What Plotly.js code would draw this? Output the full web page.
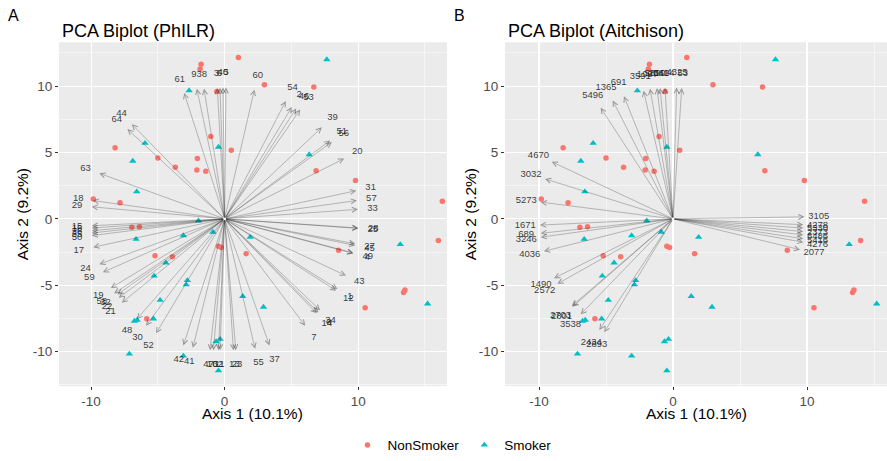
<!DOCTYPE html>
<html>
<head>
<meta charset="utf-8">
<script src="https://cdn.plot.ly/plotly-3.0.1.min.js"></script>
<style>html,body{margin:0;padding:0;background:#fff;}#chart{width:887px;height:461px;}</style>
</head>
<body>
<div id="chart"></div>
<script>
// ---- sample scores shared by both panels ----
const nonSmokerX = [-1.76,-1.84,-0.59,-1.04,0.5,-8.2,-5.0,-3.69,-2.04,-2.08,-1.41,-9.83,-7.83,-6.95,-6.38,-0.46,-0.26,-5.21,-3.91,-5.83,1.03,2.98,6.68,6.85,9.8,1.61,8.53,13.5,13.4,10.52];
const nonSmokerY = [11.65,11.28,9.6,6.2,5.17,5.36,4.59,3.88,4.54,3.68,3.58,1.5,1.21,-0.64,-0.59,-2.07,-2.15,-2.77,-2.86,-7.53,12.15,10.1,9.93,3.63,2.89,-2.62,-2.37,-5.35,-5.55,-6.69];
const smokerX = [-2.66,-0.46,-5.96,-6.88,-6.58,-1.96,-6.63,-3.09,-0.88,-4.4,-5.28,-2.79,-2.88,-4.83,-6.75,-6.55,-5.33,-7.13,-3.09,-0.64,-0.34,-0.46,7.65,6.33,1.91,13.15,1.36,2.91,15.2];
const smokerY = [9.65,5.41,5.7,4.35,2.05,-0.15,-1.53,-1.26,-0.99,-3.31,-4.3,-4.64,-4.96,-6.12,-7.7,-7.62,-7.53,-10.17,-10.32,-9.24,-9.06,-11.43,12.0,4.84,-1.38,-1.93,-5.83,-6.64,-6.4];
// far-right NonSmoker samples that sit differently in the two panels
const nonSmokerFarX_A = [16.3, 16.0];
const nonSmokerFarX_B = [14.3, 14.0];
const nonSmokerFarY = [1.33, -1.63];

// ---- PhILR loadings (arrow tips) ----
const philrLabels = ["61","9","38","3","6","40","5","60","54","2","46","53","39","51","56","20","31","57","33","28","25","27","45","49","4","43","1","12","34","8","14","7","37","55","23","13","11","62","10","47","41","42","52","30","48","21","22","32","58","19","59","24","17","50","35","26","16","15","29","18","63","64","44"];
const philrX = [-3.03,-2.08,-1.54,-0.55,-0.35,-0.12,0.1,2.23,4.58,5.03,5.36,5.66,7.28,7.9,8.03,8.95,9.85,9.9,9.98,10.02,10.0,9.78,9.78,9.65,9.62,9.08,8.45,8.35,7.15,7.03,6.9,6.03,3.36,2.28,0.84,0.66,-0.34,-0.46,-0.84,-1.09,-2.38,-3.09,-5.13,-5.88,-6.58,-7.7,-7.93,-8.03,-8.28,-8.52,-9.12,-9.38,-9.83,-9.95,-9.95,-9.95,-9.95,-9.95,-9.95,-9.87,-9.38,-7.28,-6.95];
const philrY = [9.48,9.8,9.8,9.85,9.87,9.9,9.9,9.73,8.87,8.42,8.32,8.24,6.89,5.9,5.78,4.54,2.12,1.38,0.72,-0.69,-0.72,-1.88,-2.0,-2.57,-2.6,-4.27,-5.28,-5.41,-6.89,-7.06,-7.11,-8.05,-9.53,-9.78,-9.9,-9.9,-9.9,-9.9,-9.9,-9.9,-9.7,-9.53,-8.62,-8.05,-7.56,-6.32,-5.95,-5.7,-5.63,-5.21,-4.02,-3.41,-2.13,-1.26,-1.06,-0.89,-0.69,-0.52,0.91,1.38,3.43,6.76,7.13];

// ---- Aitchison loadings (arrow tips) ----
const aitchLabels = ["5496","1365","691","3591","1097","5620","2041","5604","4325","53","4670","3032","5273","1671","689","3246","4036","1490","2572","2703","2801","3538","2434","2893","3105","4278","5330","2373","6486","5416","4276","2077"];
const aitchX = [-5.4,-4.5,-3.66,-2.2,-1.72,-1.2,-0.97,-0.6,0.27,0.65,-9.05,-9.55,-9.87,-9.93,-9.87,-9.87,-9.63,-8.88,-8.63,-7.56,-7.5,-6.89,-5.5,-5.13,9.8,9.72,9.72,9.72,9.72,9.72,9.72,9.48];
const aitchY = [8.37,8.91,9.23,9.65,9.8,9.85,9.85,9.87,9.9,9.85,4.3,3.01,1.26,-0.47,-1.09,-1.38,-2.44,-4.47,-4.89,-6.57,-6.62,-7.19,-8.37,-8.54,0.15,-0.44,-0.69,-0.96,-1.21,-1.5,-1.76,-2.32];

const labelScale = 1.11;
const titles = ["PCA Biplot (PhILR)", "PCA Biplot (Aitchison)"];
const panelTags = ["A", "B"];
const xTitle = "Axis 1 (10.1%)";
const yTitle = "Axis 2 (9.2%)";

const RED = "#F8766D", TEAL = "#00BFC4";
const FONT = "Liberation Sans, Arial, Helvetica, sans-serif";
const W = 887, H = 461;
const px = v => v / W, py = v => 1 - v / H;

const traces = [];
function addPoints(xa, ya, show, farX) {
  traces.push({type:"scatter", mode:"markers", x:nonSmokerX.concat(farX), y:nonSmokerY.concat(nonSmokerFarY), xaxis:xa, yaxis:ya,
    name:"NonSmoker", showlegend:show, legendgroup:"ns",
    marker:{symbol:"circle", size:5.5, color:RED}, hoverinfo:"skip", cliponaxis:false});
  traces.push({type:"scatter", mode:"markers", x:smokerX, y:smokerY, xaxis:xa, yaxis:ya,
    name:"Smoker", showlegend:show, legendgroup:"s",
    marker:{symbol:"triangle-up", size:6.5, color:TEAL}, hoverinfo:"skip"});
}
addPoints("x","y",true, nonSmokerFarX_A);
addPoints("x2","y2",false, nonSmokerFarX_B);

function addLabels(lbl, xs, ys, xa, ya) {
  traces.push({type:"scatter", mode:"text", x:xs.map(v=>v*labelScale), y:ys.map(v=>v*labelScale),
    text:lbl, xaxis:xa, yaxis:ya, showlegend:false, hoverinfo:"skip",
    textposition:"middle center", textfont:{family:FONT, size:9.5, color:"rgba(20,20,20,0.85)"}});
}
addLabels(philrLabels, philrX, philrY, "x", "y");
addLabels(aitchLabels, aitchX, aitchY, "x2", "y2");

const annotations = [];
function addArrows(xs, ys, xr, yr) {
  xs.forEach((xv, i) => {
    annotations.push({x:xv, y:ys[i], ax:0, ay:0, xref:xr, yref:yr, axref:xr, ayref:yr,
      text:"", showarrow:true, arrowhead:5, arrowsize:1.5, arrowwidth:0.65,
      arrowcolor:"rgba(45,45,45,0.45)"});
  });
}
addArrows(philrX, philrY, "x", "y");
addArrows(aitchX, aitchY, "x2", "y2");

// text annotations (titles)
const panelLeft = [59, 505];
[0,1].forEach(k => {
  annotations.push({xref:"paper", yref:"paper", x:px(panelLeft[k]+1), y:py(32), xanchor:"left", yanchor:"middle",
    text:titles[k], showarrow:false, font:{family:FONT, size:18, color:"#000"}});
  annotations.push({xref:"paper", yref:"paper", x:px(k===0?6:452), y:py(16), xanchor:"left", yanchor:"middle",
    text:panelTags[k], showarrow:false, font:{family:FONT, size:16, color:"#000"}});
  annotations.push({xref:"paper", yref:"paper", x:px(k===0?253:696), y:py(421), xanchor:"center", yanchor:"middle",
    text:xTitle, showarrow:false, font:{family:FONT, size:15.5, color:"#000"}});
  annotations.push({xref:"paper", yref:"paper", x:px(k===0?22:470), y:py(218), xanchor:"center", yanchor:"middle",
    text:yTitle, textangle:-90, showarrow:false, font:{family:FONT, size:15.5, color:"#000"}});
});

function xAxis(domain, range) {
  return {domain:domain, range:range, tickmode:"array", tickvals:[-10,0,10], ticktext:["-10","0","10"],
    showgrid:true, gridcolor:"#FFFFFF", gridwidth:1.1, zeroline:false, showline:false,
    ticks:"outside", ticklen:3, tickwidth:1, tickcolor:"#333333",
    tickfont:{family:FONT, size:13.5, color:"#4D4D4D"}, automargin:false,
    minor:{tickmode:"array", tickvals:[-5,5,15], showgrid:true, gridcolor:"#FFFFFF", gridwidth:0.5, ticks:""}};
}
function yAxis(anchor, domain, range) {
  return {anchor:anchor, domain:domain, range:range, tickmode:"array", tickvals:[-10,-5,0,5,10], ticktext:["-10","-5","0","5","10"],
    showgrid:true, gridcolor:"#FFFFFF", gridwidth:1.1, zeroline:false, showline:false,
    ticks:"outside", ticklen:3, tickwidth:1, tickcolor:"#333333",
    tickfont:{family:FONT, size:13.5, color:"#4D4D4D"}, automargin:false,
    minor:{tickmode:"array", tickvals:[-12.5,-7.5,-2.5,2.5,7.5,12.5], showgrid:true, gridcolor:"#FFFFFF", gridwidth:0.5, ticks:""}};
}
const yDom = [py(393), py(43)];
const yRange = [-12.6, 13.3];

const layout = {
  width:W, height:H, margin:{l:0,r:0,t:0,b:0,pad:0},
  paper_bgcolor:"#FFFFFF", plot_bgcolor:"#EBEBEB",
  font:{family:FONT},
  xaxis: xAxis([px(59), px(447)], [-12.4, 16.65]),
  yaxis: yAxis("x", yDom, yRange),
  xaxis2: Object.assign(xAxis([px(505), 1], [-12.54, 15.97]), {anchor:"y2"}),
  yaxis2: yAxis("x2", yDom, yRange),
  showlegend:true,
  legend:{orientation:"h", x:px(452), xanchor:"center", y:py(453), yanchor:"middle",
    font:{family:FONT, size:13.5, color:"#000"}, bgcolor:"rgba(0,0,0,0)", itemwidth:30, tracegroupgap:0},
  annotations:annotations
};

Plotly.newPlot("chart", traces, layout, {displayModeBar:false, staticPlot:true});
</script>
</body>
</html>
